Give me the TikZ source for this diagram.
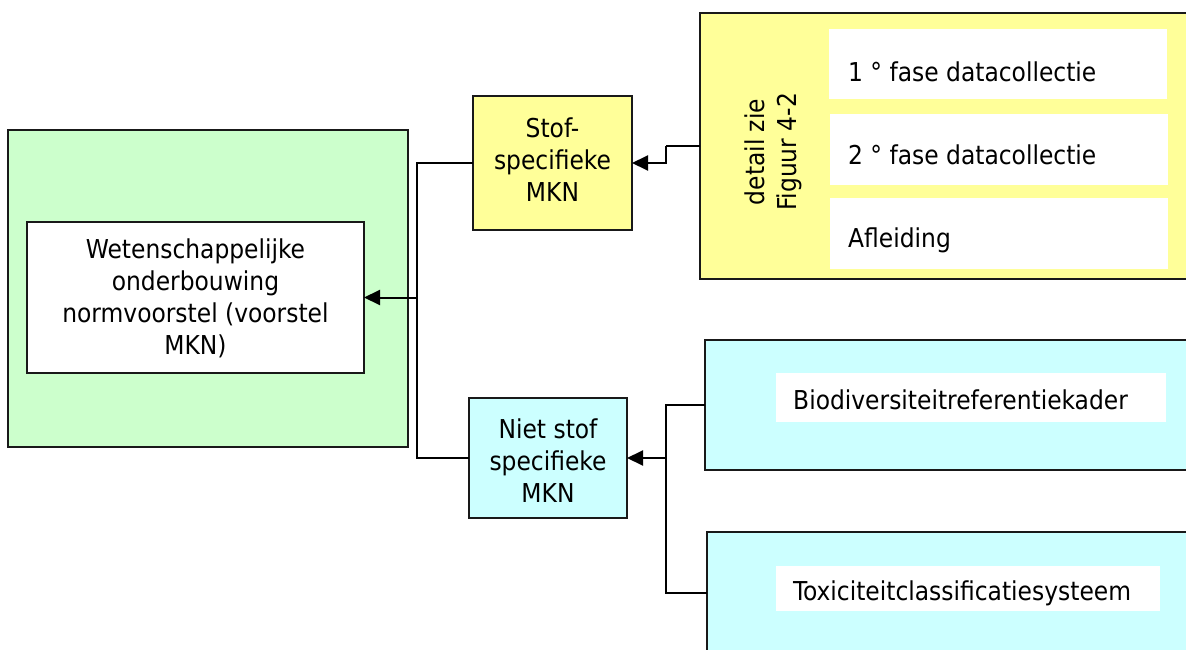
\documentclass[tikz,border=0pt]{standalone}
\usepackage{fontspec}
\setmainfont{DejaVu Sans Condensed}
\usetikzlibrary{arrows.meta}
\definecolor{groen}{HTML}{CCFFCC}
\definecolor{geel}{HTML}{FFFF99}
\definecolor{cyaan}{HTML}{CCFFFF}
\tikzset{
  box/.style={draw=black!90, line width=2.2pt, anchor=north west, inner sep=0pt, outer sep=0pt},
  band/.style={fill=white, draw=none, anchor=north west, inner sep=0pt, outer sep=0pt},
  label/.style={font=\fontsize{26}{32}\selectfont, align=center, inner sep=0pt},
  rowtext/.style={font=\fontsize{26}{32}\selectfont, anchor=west, inner sep=0pt},
  link/.style={line width=2pt},
  arr/.style={line width=2pt, -{Triangle[length=16pt,width=15pt]}}
}
\begin{document}
\begin{tikzpicture}[x=1pt,y=-1pt]
  \useasboundingbox (0,0) rectangle (1186,650);
  \clip (0,0) rectangle (1186,650);

  % left: norm proposal
  \node[box, fill=groen, minimum width=400pt, minimum height=317pt] (groen) at (8,130) {};
  \node[box, fill=white, minimum width=337pt, minimum height=151pt] (wet) at (27,222) {};
  \node[label] (wettxt) at (195.5,298) {Wetenschappelijke\\onderbouwing\\normvoorstel (voorstel\\MKN)};

  % middle: two kinds of MKN
  \node[box, fill=geel, minimum width=159pt, minimum height=134pt] (stof) at (473,96) {};
  \node[label] (stoftxt) at (552.5,160) {Stof-\\specifieke\\MKN};
  \node[box, fill=cyaan, minimum width=158pt, minimum height=120pt] (niet) at (469,398) {};
  \node[label] (niettxt) at (548,461) {Niet stof\\specifieke\\MKN};

  % right top: data collection stages
  \node[box, fill=geel, minimum width=520pt, minimum height=266pt] (detail) at (700,13) {};
  \node[label, rotate=90] (detailtxt) at (773,152) {detail zie\\Figuur 4-2};
  \node[band, minimum width=338pt, minimum height=70pt] (fase1) at (829,29) {};
  \node[rowtext] (fase1txt) at (848,72) {1 ° fase datacollectie};
  \node[band, minimum width=338pt, minimum height=71pt] (fase2) at (830,114) {};
  \node[rowtext] (fase2txt) at (848,155) {2 ° fase datacollectie};
  \node[band, minimum width=338pt, minimum height=71pt] (afl) at (830,198) {};
  \node[rowtext] (afltxt) at (848,240) {Afleiding};

  % right bottom: non-substance frameworks
  \node[box, fill=cyaan, minimum width=500pt, minimum height=130pt] (bio) at (705,340) {};
  \node[band, minimum width=390pt, minimum height=49pt] (bioband) at (776,373) {};
  \node[rowtext] (biotxt) at (793,400) {Biodiversiteitreferentiekader};
  \node[box, fill=cyaan, minimum width=500pt, minimum height=122pt] (tox) at (707,532) {};
  \node[band, minimum width=384pt, minimum height=45pt] (toxband) at (776,566) {};
  \begin{scope}
    \clip (toxband.north west) rectangle (toxband.south east);
    \node[rowtext] (toxtxt) at (793,593) {Toxiciteitclassificatiesysteem};
  \end{scope}

  % connectors
  \path (wet.east) ++(53,0) coordinate (bus);
  \path (detail.west) ++(-34,0) coordinate (j1);
  \path (niet.east) ++(39,0) coordinate (j2);
  \draw[link] (stof.west) -| (bus) |- (niet.west);
  \draw[arr] (bus) -- (wet.east);
  \draw[link] (detail.west) -- (j1);
  \draw[arr] (j1) |- (stof.east);
  \draw[link] (bio.west) -| (j2);
  \draw[link] (tox.west) -| (j2);
  \draw[arr] (j2) -- (niet.east);
\end{tikzpicture}
\end{document}
